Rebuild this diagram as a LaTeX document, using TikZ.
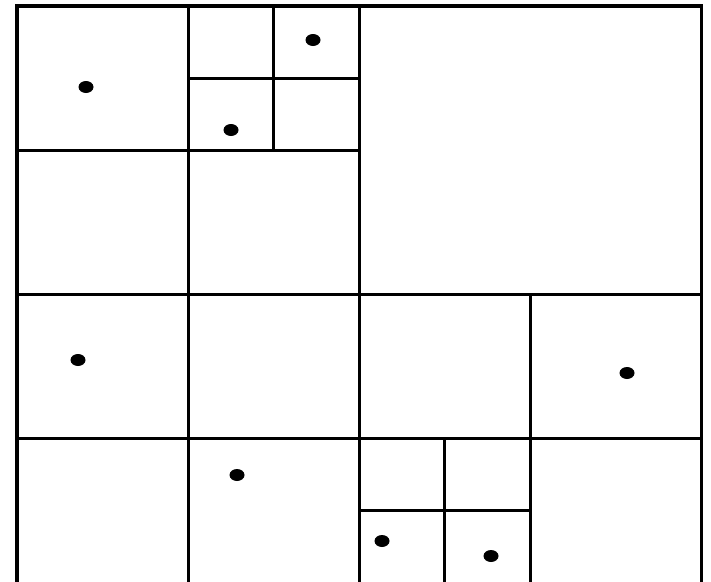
\documentclass[tikz,border=0pt]{standalone}
\begin{document}
\begin{tikzpicture}[x=1pt,y=-1pt,
  grid/.style={line width=3pt,black},
  outer/.style={line width=3.5pt,black},
  pt/.style={fill=black}]
\useasboundingbox (0,0) rectangle (711,581);
\clip (0,0) rectangle (711,581);
\fill[white] (0,0) rectangle (711,581);
% outer frame
\draw[outer] (17,590) -- (17,6) -- (701.5,6) -- (701.5,590);
% quadrant lines
\draw[grid] (359,6) -- (359,590);
\draw[grid] (17,294) -- (701.5,294);
% top-left quadrant
\draw[grid] (188,6) -- (188,294);
\draw[grid] (17,150) -- (359,150);
\draw[grid] (273.5,6) -- (273.5,150);
\draw[grid] (188,78) -- (359,78);
% bottom-left quadrant
\draw[grid] (188,294) -- (188,590);
\draw[grid] (17,438) -- (359,438);
% bottom-right quadrant
\draw[grid] (530,294) -- (530,590);
\draw[grid] (359,438) -- (701.5,438);
\draw[grid] (444.5,438) -- (444.5,590);
\draw[grid] (359,510) -- (530,510);
% points
\foreach \p in {(86,87),(313,40),(231,130),(78,360),(627,373),(237,475),(382,541),(491,556)}
  \fill[pt] \p ellipse [x radius=7.5pt, y radius=6pt];
\end{tikzpicture}
\end{document}
